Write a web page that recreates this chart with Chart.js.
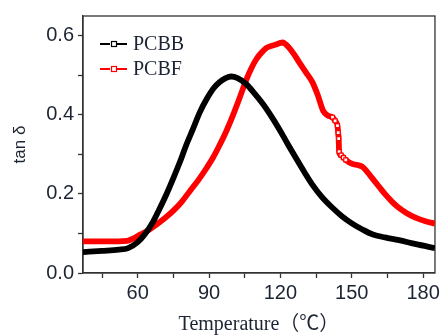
<!DOCTYPE html>
<html>
<head>
<meta charset="utf-8">
<script src="https://cdn.jsdelivr.net/npm/chart.js@4.4.1/dist/chart.umd.min.js"></script>
<style>
  html, body { margin: 0; padding: 0; background: #fff; }
  #wrap { width: 443px; height: 335px; }
</style>
</head>
<body>
<div id="wrap"><canvas id="tanChart"></canvas></div>
<script>
// Temperature (°C) and tan delta
const pcbbTemp = [37, 45, 52, 56, 60, 63, 66.5, 69, 72, 75, 77.7, 80.5, 83.3, 86, 89, 92, 94.5, 97, 99.3, 102, 105.6, 109, 112.6, 116, 119.6, 123, 126.6, 130, 133.5, 137.5, 141.9, 146, 150.2, 154.5, 158.6, 164, 169.8, 177, 185];
const pcbbTan  = [0.053, 0.056, 0.059, 0.063, 0.078, 0.098, 0.13, 0.16, 0.198, 0.24, 0.28, 0.325, 0.365, 0.405, 0.44, 0.468, 0.483, 0.493, 0.497, 0.493, 0.478, 0.455, 0.428, 0.398, 0.363, 0.327, 0.29, 0.256, 0.223, 0.192, 0.165, 0.143, 0.125, 0.11, 0.098, 0.09, 0.083, 0.073, 0.063];

const pcbfTemp = [37, 45, 52, 55.5, 58, 61, 64.5, 68, 71.5, 74.9, 78.5, 81.9, 85.5, 88.9, 91.7, 94.4, 97.2, 100, 102.8, 105.6, 107.8, 109.8, 112, 114, 116, 118.2, 120, 121, 122.3, 123.8, 126, 128, 130.8, 133.5, 135.7, 138, 140, 141.9, 143, 144, 144.3, 144.5, 144.7, 145.5, 146.5, 147.5, 150.2, 152.5, 154.4, 156.5, 158.6, 161.5, 164.2, 167, 169.8, 173, 176.8, 181, 185];
const pcbfTan  = [0.08, 0.08, 0.08, 0.081, 0.087, 0.097, 0.108, 0.123, 0.139, 0.157, 0.18, 0.207, 0.235, 0.265, 0.292, 0.323, 0.358, 0.398, 0.442, 0.488, 0.518, 0.54, 0.557, 0.569, 0.574, 0.578, 0.582, 0.583, 0.578, 0.569, 0.551, 0.532, 0.507, 0.482, 0.45, 0.41, 0.398, 0.394, 0.385, 0.373, 0.355, 0.34, 0.307, 0.298, 0.292, 0.286, 0.276, 0.273, 0.269, 0.256, 0.24, 0.218, 0.198, 0.18, 0.165, 0.152, 0.14, 0.131, 0.125];

// tick positions (major ones get a label)
const xTicks = [45, 60, 75, 90, 105, 120, 135, 150, 165, 180];
const xMajorTicks = [60, 90, 120, 150, 180];
const yTicks = [0, 0.1, 0.2, 0.3, 0.4, 0.5, 0.6];
const yMajorTicks = [0, 0.2, 0.4, 0.6];

const toPoints = (xs, ys) => xs.map((x, i) => ({ x: x, y: ys[i] }));

const axisColor = '#333';
const textColor = '#1c2433';

// plot frame (top + right edges too)
const frame = {
  id: 'frame',
  beforeDatasetsDraw(chart) {
    const a = chart.chartArea;
    const ctx = chart.ctx;
    ctx.save();
    ctx.strokeStyle = axisColor;
    ctx.lineWidth = 1.3;
    ctx.strokeRect(a.left, a.top, a.right - a.left, a.bottom - a.top);
    ctx.restore();
  }
};

// Origin style legend: line with a small hollow square
const insideLegend = {
  id: 'insideLegend',
  afterDraw(chart) {
    const a = chart.chartArea;
    const ctx = chart.ctx;
    ctx.save();
    chart.data.datasets.forEach((ds, i) => {
      const x0 = a.left + 17;
      const y = a.top + 28 + i * 25;
      ctx.strokeStyle = ds.borderColor;
      ctx.lineWidth = 2;
      ctx.beginPath();
      ctx.moveTo(x0, y); ctx.lineTo(x0 + 10, y);
      ctx.moveTo(x0 + 17, y); ctx.lineTo(x0 + 27, y);
      ctx.stroke();
      ctx.lineWidth = 1.2;
      ctx.strokeRect(x0 + 11.5, y - 2.5, 5, 5);
      ctx.fillStyle = textColor;
      ctx.font = '20px "Liberation Serif", "Times New Roman", serif';
      ctx.textBaseline = 'middle';
      ctx.fillText(ds.label, x0 + 33, y + 1);
    });
    ctx.restore();
  }
};

const tickGrid = {
  display: true,
  drawOnChartArea: false,
  drawTicks: true,
  tickLength: 5,
  tickColor: axisColor,
  tickWidth: 1.3
};

const ctx = document.getElementById('tanChart').getContext('2d');
new Chart(ctx, {
  type: 'line',
  data: {
    datasets: [
      {
        label: 'PCBB',
        data: toPoints(pcbbTemp, pcbbTan),
        borderColor: '#000000',
        borderWidth: 5.8,
        pointRadius: 0,
        cubicInterpolationMode: 'monotone'
      },
      {
        label: 'PCBF',
        data: toPoints(pcbfTemp, pcbfTan),
        borderColor: '#ff0000',
        borderWidth: 5.8,
        cubicInterpolationMode: 'monotone',
        pointStyle: 'rect',
        pointBackgroundColor: '#ffffff',
        pointBorderColor: '#ff0000',
        pointBorderWidth: 1.2,
        // the sparse points across the step show as open squares
        pointRadius: c => (c.raw && c.raw.x > 141 && c.raw.x < 148) ? 2.8 : 0
      }
    ]
  },
  options: {
    responsive: true,
    maintainAspectRatio: false,
    animation: false,
    layout: { padding: { top: 13, right: 7, left: 0, bottom: 0 } },
    plugins: {
      legend: { display: false },
      tooltip: { enabled: false }
    },
    scales: {
      x: {
        type: 'linear',
        min: 37,
        max: 185,
        afterFit: s => { s.height = 62; },
        afterBuildTicks: s => { s.ticks = xTicks.map(v => ({ value: v })); },
        grid: tickGrid,
        border: { display: true, color: axisColor, width: 1.3 },
        ticks: {
          autoSkip: false,
          maxRotation: 0,
          padding: 3,
          color: textColor,
          font: { family: '"Liberation Sans", Arial, sans-serif', size: 20 },
          callback: v => xMajorTicks.includes(v) ? String(v) : ''
        },
        title: {
          display: true,
          text: 'Temperature（℃）',
          color: textColor,
          padding: { top: 0, bottom: 0 },
          font: { family: '"Liberation Serif", "Noto Sans CJK SC", serif', size: 20, lineHeight: 1 }
        }
      },
      y: {
        min: 0,
        max: 0.65,
        afterFit: s => { s.width = 83; },
        afterBuildTicks: s => { s.ticks = yTicks.map(v => ({ value: v })); },
        grid: tickGrid,
        border: { display: true, color: axisColor, width: 1.3 },
        ticks: {
          autoSkip: false,
          padding: 4,
          color: textColor,
          font: { family: '"Liberation Sans", Arial, sans-serif', size: 20 },
          callback: v => yMajorTicks.includes(v) ? v.toFixed(1) : ''
        },
        title: {
          display: true,
          text: 'tan δ',
          color: textColor,
          padding: { top: 10, bottom: 0 },
          font: { family: '"Liberation Sans", Arial, sans-serif', size: 17 }
        }
      }
    }
  },
  plugins: [frame, insideLegend]
});
</script>
</body>
</html>
